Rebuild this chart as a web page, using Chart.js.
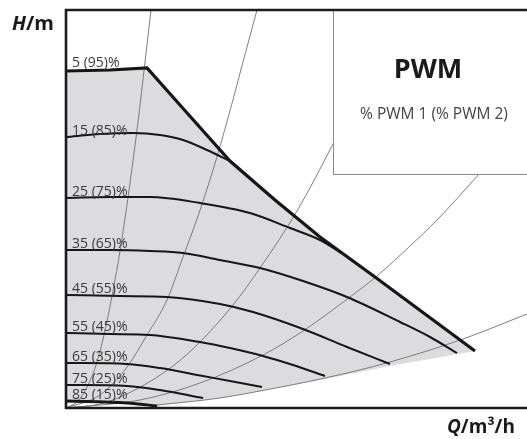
<!DOCTYPE html>
<html>
<head>
<meta charset="utf-8">
<script src="https://cdn.jsdelivr.net/npm/chart.js@4.4.1/dist/chart.umd.min.js"></script>
<style>
  html, body { margin: 0; padding: 0; background: #fff; }
  #wrap { width: 527px; height: 439px; position: relative; }
</style>
</head>
<body>
<div id="wrap"><canvas id="pwmChart"></canvas></div>
<script>
// ------------------------
// Data (Q in m3/h, H in m)
// ------------------------
const maxQ = [0, 0.44, 0.81, 1.22, 1.64, 2.09, 2.54, 3.09, 3.59, 4.09];
const maxH = [3.37, 3.38, 3.40, 2.94, 2.47, 2.08, 1.71, 1.31, 0.94, 0.57];

const curve15Q = [0, 0.34, 0.67, 0.94, 1.17, 1.41, 1.64];
const curve15H = [2.71, 2.74, 2.75, 2.73, 2.68, 2.58, 2.47];

const curve25Q = [0, 0.44, 0.84, 1.34, 1.84, 2.24, 2.54, 2.77];
const curve25H = [2.10, 2.11, 2.11, 2.05, 1.95, 1.80, 1.68, 1.54];

const curve35Q = [0, 0.44, 0.84, 1.17, 1.54, 1.94, 2.37, 2.81, 3.34, 3.64, 3.91];
const curve35H = [1.58, 1.58, 1.57, 1.55, 1.48, 1.40, 1.27, 1.11, 0.86, 0.71, 0.55];

const curve45Q = [0, 0.54, 1.01, 1.54, 1.87, 2.37, 2.81, 3.24];
const curve45H = [1.13, 1.12, 1.11, 1.04, 0.96, 0.79, 0.61, 0.44];

const curve55Q = [0, 0.44, 0.84, 1.34, 1.64, 1.97, 2.27, 2.59];
const curve55H = [0.75, 0.74, 0.73, 0.66, 0.60, 0.52, 0.43, 0.32];

const curve65Q = [0, 0.61, 0.94, 1.37, 1.64, 1.96];
const curve65H = [0.45, 0.44, 0.40, 0.32, 0.27, 0.21];

const curve75Q = [0, 0.61, 0.94, 1.37];
const curve75H = [0.23, 0.22, 0.18, 0.10];

const curve85Q = [0, 0.61, 0.91];
const curve85H = [0.07, 0.05, 0.02];

const pwmLabels = ["5 (95)%", "15 (85)%", "25 (75)%", "35 (65)%", "45 (55)%",
                   "55 (45)%", "65 (35)%", "75 (25)%", "85 (15)%"];

// lower edge of the operating area
const edgeQ = [0.91, 1.54, 1.94, 2.59, 3.24, 3.64, 4.09];
const edgeH = [0.02, 0.10, 0.17, 0.29, 0.42, 0.49, 0.57];

// system curves
const sys1Q = [0, 0.12, 0.22, 0.30, 0.38, 0.46, 0.55, 0.64, 0.72, 0.79, 0.85];
const sys1H = [0, 0.07, 0.23, 0.43, 0.73, 1.12, 1.63, 2.25, 2.86, 3.46, 3.98];

const sys2Q = [0, 0.34, 0.61, 0.81, 1.01, 1.17, 1.31, 1.47, 1.62, 1.77, 1.91];
const sys2H = [0, 0.13, 0.41, 0.73, 1.08, 1.51, 1.89, 2.38, 2.90, 3.46, 3.98];

const sys3Q = [0, 0.34, 0.67, 1.07, 1.34, 1.67, 1.94, 2.31, 2.67, 2.79];
const sys3H = [0, 0.04, 0.17, 0.42, 0.66, 1.03, 1.40, 1.97, 2.64, 2.88];

const sys4Q = [0, 0.74, 1.34, 1.97, 2.37, 2.84, 3.11, 3.44, 3.71, 4.13, 4.29];
const sys4H = [0, 0.08, 0.25, 0.53, 0.77, 1.11, 1.32, 1.62, 1.88, 2.34, 2.53];

const sys5Q = [0.91, 1.54, 1.94, 2.59, 3.24, 3.97, 4.61];
const sys5H = [0.03, 0.10, 0.17, 0.30, 0.46, 0.69, 0.94];

// legend box corner (Q, H) and axis ranges
const boxQ = 2.67;
const boxH = 2.34;
const axisMaxQ = 4.61;
const axisMaxH = 3.98;

// ------------------------
// Helpers
// ------------------------
const pts = (q, h) => q.map((x, i) => ({ x: x, y: h[i] }));

const pwmCurves = [
    pts(maxQ, maxH),
    pts(curve15Q, curve15H),
    pts(curve25Q, curve25H),
    pts(curve35Q, curve35H),
    pts(curve45Q, curve45H),
    pts(curve55Q, curve55H),
    pts(curve65Q, curve65H),
    pts(curve75Q, curve75H),
    pts(curve85Q, curve85H),
];

const areaPts = pts(maxQ, maxH)
    .concat(pts(edgeQ, edgeH).reverse())
    .concat(pts(curve85Q, curve85H).reverse());

const sysCurves = [
    pts(sys1Q, sys1H), pts(sys2Q, sys2H), pts(sys3Q, sys3H),
    pts(sys4Q, sys4H), pts(sys5Q, sys5H)
];

const datasets = [];
pwmCurves.forEach((d, i) => {
    datasets.push({
        data: d,
        showLine: true,
        borderColor: "#161616",
        borderWidth: i === 0 ? 3.2 : (i === 8 ? 2.8 : 2),
        pointRadius: 0,
        tension: 0,
        cubicInterpolationMode: i === 0 ? "default" : "monotone",
        order: i === 0 ? 0 : 1
    });
});
sysCurves.forEach(d => {
    datasets.push({
        data: d,
        showLine: true,
        borderColor: "#707070",
        borderWidth: 0.9,
        pointRadius: 0,
        cubicInterpolationMode: "monotone",
        order: 2
    });
});
datasets.push({
    data: areaPts,
    showLine: true,
    borderWidth: 0,
    borderColor: "rgba(0,0,0,0)",
    backgroundColor: "#dcdcde",
    fill: "shape",
    pointRadius: 0,
    tension: 0,
    order: 3
});

// ------------------------
// Frame, labels and legend box
// ------------------------
const decorPlugin = {
    id: "decor",
    afterDatasetsDraw(chart) {
        const ctx = chart.ctx;
        const xs = chart.scales.x, ys = chart.scales.y;
        const a = chart.chartArea;

        // curve labels
        ctx.save();
        ctx.fillStyle = "#3a3a3a";
        ctx.font = "14px 'Open Sans'";
        ctx.textBaseline = "alphabetic";
        pwmCurves.forEach((d, i) => {
            const y = ys.getPixelForValue(d[0].y) - (i === 0 ? 4 : 2.5);
            ctx.fillText(pwmLabels[i], a.left + 6, y);
        });
        ctx.restore();

        // legend box
        const bx = xs.getPixelForValue(boxQ);
        const by = ys.getPixelForValue(boxH);
        ctx.save();
        ctx.fillStyle = "#fff";
        ctx.fillRect(bx, a.top, a.right + 5 - bx, by - a.top);
        ctx.strokeStyle = "#8a8a8a";
        ctx.lineWidth = 1;
        ctx.strokeRect(Math.round(bx) + 0.5, a.top, a.right + 5 - bx, Math.round(by - a.top) + 0.5);
        ctx.fillStyle = "#1a1a1a";
        ctx.textAlign = "center";
        ctx.font = "bold 27px 'Open Sans'";
        ctx.fillText("PWM", 428, 78);
        ctx.fillStyle = "#444";
        ctx.font = "15.5px 'Open Sans'";
        ctx.fillText("% PWM 1 (% PWM 2)", 434, 119);
        ctx.restore();

        // frame
        ctx.save();
        ctx.strokeStyle = "#1c1c1c";
        ctx.lineWidth = 2.6;
        ctx.beginPath();
        ctx.moveTo(a.right, a.top);
        ctx.lineTo(a.left, a.top);
        ctx.lineTo(a.left, a.bottom);
        ctx.lineTo(a.right, a.bottom);
        ctx.stroke();
        ctx.restore();

        // axis titles
        ctx.save();
        ctx.fillStyle = "#1a1a1a";
        ctx.textBaseline = "alphabetic";
        ctx.font = "italic bold 20px 'Open Sans'";
        ctx.fillText("H", 12, 30);
        let w = ctx.measureText("H").width;
        ctx.font = "bold 20px 'Open Sans'";
        ctx.fillText("/m", 12 + w, 30);

        ctx.font = "italic bold 19px 'Open Sans'";
        ctx.fillText("Q", 447, 433);
        w = ctx.measureText("Q").width;
        ctx.font = "bold 19px 'Open Sans'";
        ctx.fillText("/m³/h", 447 + w, 433);
        ctx.restore();
    }
};

new Chart(document.getElementById("pwmChart"), {
    type: "scatter",
    data: { datasets: datasets },
    options: {
        responsive: true,
        maintainAspectRatio: false,
        animation: false,
        layout: { padding: { left: 66, top: 10, right: 0, bottom: 31 } },
        scales: {
            x: { type: "linear", min: 0, max: axisMaxQ, display: false },
            y: { type: "linear", min: 0, max: axisMaxH, display: false }
        },
        plugins: {
            legend: { display: false },
            tooltip: { enabled: false }
        }
    },
    plugins: [decorPlugin]
});
</script>
</body>
</html>
